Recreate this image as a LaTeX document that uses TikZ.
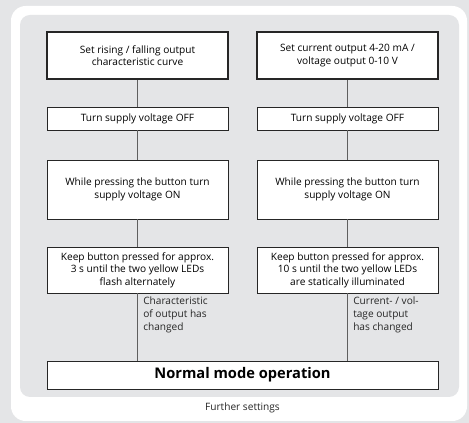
\documentclass[tikz,border=0pt]{standalone}
\usepackage{fontspec}
\setmainfont{Open Sans}
\usepackage{xcolor}
\usepackage{tikz}

\definecolor{panelgray}{RGB}{228,229,231}
\definecolor{wiregray}{RGB}{95,95,95}

\begin{document}
\begin{tikzpicture}[x=0.75pt,y=0.75pt,yscale=-1,xscale=1,
    stepbox/.style={draw=black!85, fill=white, line width=0.6pt, minimum width=135.75pt, inner sep=0.75pt, align=center, font=\fontsize{7.6}{9.4}\selectfont},
    headbox/.style={stepbox, line width=1.2pt},
    wire/.style={draw=wiregray, line width=0.8pt},
    note/.style={anchor=north west, inner sep=0.75pt, align=left, text=black!85, font=\fontsize{7.6}{9.4}\selectfont}]
        % panel
        \fill [panelgray] (0,0) rectangle (469,423);
        \fill [white, rounded corners=11pt] (11,6) rectangle (467,421);
        \fill [panelgray, rounded corners=7.5pt] (20,15) rectangle (459,397);

        % left column
        \node [headbox, minimum height=35.25pt] (l1) at (137.5,55.5) {Set rising / falling output\\characteristic curve};
        \node [stepbox, minimum height=17.25pt] (l2) at (137.5,118.5) {Turn supply voltage OFF};
        \node [stepbox, minimum height=44.25pt] (l3) at (137.5,189.5) {While pressing the button turn\\supply voltage ON};
        \node [stepbox, minimum height=34.5pt] (l4) at (137.5,270) {Keep button pressed for approx.\\3 s until the two yellow LEDs\\flash alternately};

        % right column
        \node [headbox, minimum height=35.25pt] (r1) at (347.5,55.5) {Set current output 4-20 mA /\\voltage output 0-10 V};
        \node [stepbox, minimum height=17.25pt] (r2) at (347.5,118.5) {Turn supply voltage OFF};
        \node [stepbox, minimum height=44.25pt] (r3) at (347.5,189.5) {While pressing the button turn\\supply voltage ON};
        \node [stepbox, minimum height=34.5pt] (r4) at (347.5,270) {Keep button pressed for approx.\\10 s until the two yellow LEDs\\are statically illuminated};

        \node [stepbox, minimum width=293.25pt, minimum height=21pt, font=\fontsize{11}{13}\selectfont\bfseries] (nm) at (242.5,375) {Normal mode operation};

        \draw [wire] (l1) -- (l2);
        \draw [wire] (l2) -- (l3);
        \draw [wire] (l3) -- (l4);
        \draw [wire] (l4) -- (l4 |- nm.north);
        \draw [wire] (r1) -- (r2);
        \draw [wire] (r2) -- (r3);
        \draw [wire] (r3) -- (r4);
        \draw [wire] (r4) -- (r4 |- nm.north);

        \node [note] (lnote) at (142,296) {Characteristic\\of output has\\changed};
        \node [note] (rnote) at (352,296) {Current- / vol-\\tage output\\has changed};

        \node [inner sep=0.75pt, text=black!85, font=\fontsize{7.6}{9.4}\selectfont] (cap) at (242.5,408) {Further settings};
\end{tikzpicture}
\end{document}
